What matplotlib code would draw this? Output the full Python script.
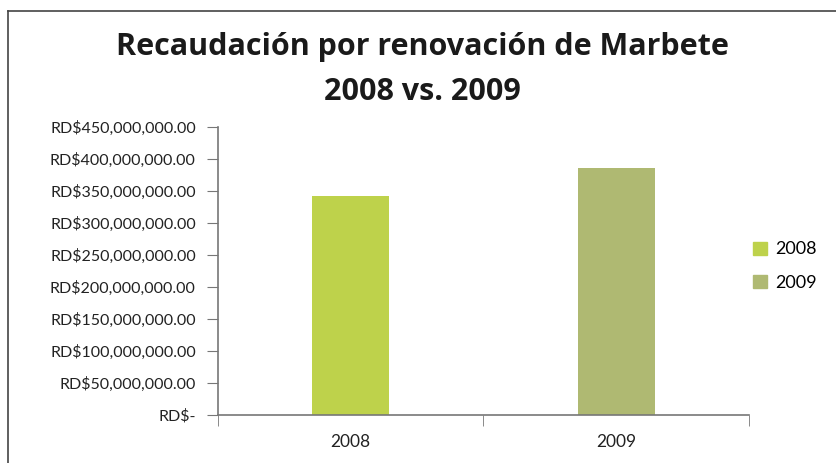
import matplotlib
matplotlib.use("Agg")
import matplotlib.pyplot as plt
from matplotlib.patches import Patch
from matplotlib.lines import Line2D

# DATA
years = ["2008", "2009"]
recaudacion = [342_500_000, 386_500_000]
bar_colors = ["#BED24B", "#AFB972"]
y_ticks = [0, 50e6, 100e6, 150e6, 200e6, 250e6, 300e6, 350e6, 400e6, 450e6]
title_lines = ["Recaudación por renovación de Marbete", "2008 vs. 2009"]


def to_rd(v, pos=None):
    if v == 0:
        return "RD$-"
    return f"RD${v:,.2f}"


plt.rcParams["font.family"] = ["Lato", "DejaVu Sans"]

fig = plt.figure(figsize=(8.37, 4.63), dpi=100)
ax = fig.add_axes([218 / 837, 1 - 415 / 463, (749 - 218) / 837, (415 - 127) / 463])

x = [0, 1]
ax.bar(x, recaudacion, width=0.29, color=bar_colors, edgecolor="none")
ax.set_xlim(-0.5, 1.5)
ax.set_ylim(0, 450e6)

ax.set_yticks(y_ticks)
ax.yaxis.set_major_formatter(plt.FuncFormatter(to_rd))
ax.set_xticks(x)
ax.set_xticklabels(years)
ax.tick_params(axis="both", length=0, labelsize=11.5, labelcolor="#222222", pad=10)
ax.tick_params(axis="y", direction="out", length=8, color="#777777", pad=8)
ax.set_xticks([-0.5, 0.5, 1.5], minor=True)
ax.tick_params(axis="x", which="minor", direction="out", length=8, color="#777777")
ax.tick_params(axis="x", which="major", pad=14, labelsize=12.5)

for s in ["top", "right"]:
    ax.spines[s].set_visible(False)
for s in ["left", "bottom"]:
    ax.spines[s].set_color("#777777")
    ax.spines[s].set_linewidth(1.2)

# title, two lines placed separately
for line, ypix in zip(title_lines, [47, 92]):
    fig.text(0.5 * (8 + 837) / 837, 1 - ypix / 463, line, ha="center", va="center",
             fontsize=22, fontweight="bold", family=["Open Sans", "DejaVu Sans"],
             color="#1a1a1a")

handles = [Patch(color=c, label=y) for c, y in zip(bar_colors, years)]
fig.legend(handles=handles, loc="center left", bbox_to_anchor=(737 / 837, 1 - 266 / 463),
           frameon=False, fontsize=13, handlelength=0.75, handleheight=0.75,
           labelspacing=0.95, handletextpad=0.45)

# chart frame
fig.add_artist(Line2D([8 / 837, 8 / 837], [0, 1 - 11 / 463], color="#444444", lw=1.2))
fig.add_artist(Line2D([8 / 837, 1], [1 - 11 / 463, 1 - 11 / 463], color="#444444", lw=1.2))

fig.savefig("out.png", dpi=100)
